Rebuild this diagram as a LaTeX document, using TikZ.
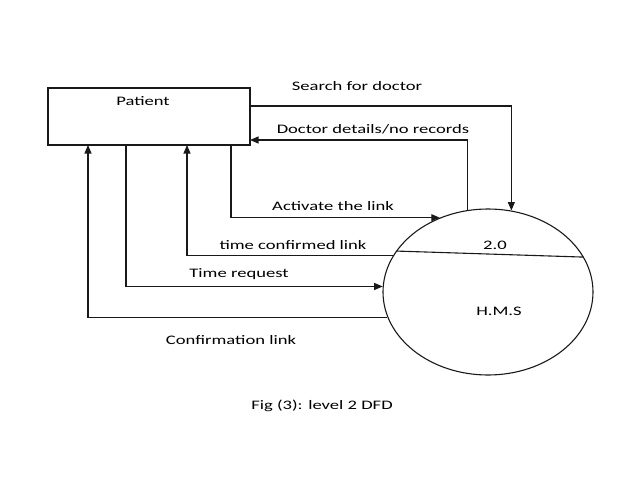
\documentclass[tikz,border=0pt]{standalone}
\usepackage{fontspec}
\setmainfont{Carlito}
\usetikzlibrary{arrows.meta,shapes.geometric}
\begin{document}
\begin{tikzpicture}[x=1pt,y=-1pt,
  lbl/.style={font=\fontsize{13}{15}\selectfont, xscale=1.43, transform shape, inner sep=0pt},
  flow/.style={line width=1.1pt, draw=black!90},
  arr/.style={flow, -{Triangle[length=8.5pt,width=7pt]}},
  every node/.style={text=black}]
\useasboundingbox (0,0) rectangle (638,479);
\node[draw=black!90, line width=1.1pt, minimum width=202pt, minimum height=57pt, inner sep=0pt] (pat) at (149,116.5) {};
\node[lbl] (patl) at (143,101) {Patient};
\node[draw=black!90, line width=1.1pt, ellipse, minimum width=210pt, minimum height=166pt, inner sep=0pt] (hms) at (488,292) {};
\draw[flow] (hms.156) -- (hms.20);
\node[lbl] (num) at (495,245) {2.0};
\node[lbl] (hmsl) at (499,311) {H.M.S};
% Search for doctor
\coordinate (s1) at (250,106);
\draw[arr] (s1) -| (hms.74);
\node[lbl] (sl) at (357,86) {Search for doctor};
% Doctor details
\coordinate (d1) at (250,140);
\draw[arr] (hms.104.5) |- (d1);
\node[lbl] (dl) at (373,129) {Doctor details/no records};
% Activate the link
\coordinate (a1) at (231,145);
\draw[arr] (a1) |- (hms.123);
\node[lbl] (al) at (333,206) {Activate the link};
% time confirmed link
\coordinate (t1) at (187,145);
\draw[arr] (hms.159) -| (t1);
\node[lbl] (tl) at (293,245) {time confirmed link};
% Time request
\coordinate (r1) at (126,145);
\draw[arr] (r1) |- (hms.177.5);
\node[lbl] (rl) at (239,274) {Time request};
% Confirmation link
\coordinate (c1) at (88,145);
\draw[arr] (hms.194.6) -| (c1);
\node[lbl] (cl) at (231,340) {Confirmation link};
\node[lbl] (cap) at (322,406) {Fig (3): level 2 DFD};
\end{tikzpicture}
\end{document}
